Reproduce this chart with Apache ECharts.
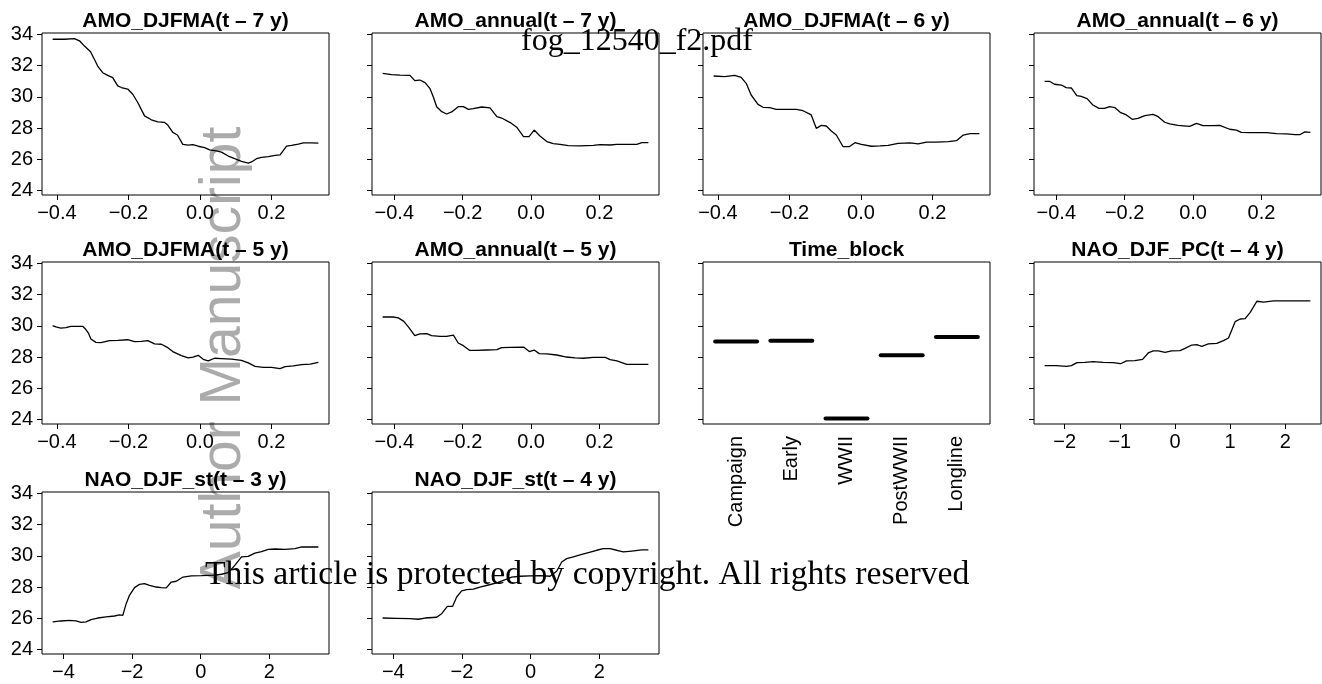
<!DOCTYPE html>
<html>
<head>
<meta charset="utf-8">
<script src="https://cdn.jsdelivr.net/npm/echarts@6/dist/echarts.min.js"></script>
<style>
html,body{margin:0;padding:0;background:#fff;}
#chart{width:1322px;height:684px;}
</style>
</head>
<body>
<div id="chart"></div>
<script>
// ---------------- DATA ----------------
const panelTitles = [
  'AMO_DJFMA(t \u2013 7 y)', 'AMO_annual(t \u2013 7 y)', 'AMO_DJFMA(t \u2013 6 y)', 'AMO_annual(t \u2013 6 y)',
  'AMO_DJFMA(t \u2013 5 y)', 'AMO_annual(t \u2013 5 y)', 'Time_block', 'NAO_DJF_PC(t \u2013 4 y)',
  'NAO_DJF_st(t \u2013 3 y)', 'NAO_DJF_st(t \u2013 4 y)'
];

const yTicks = [24, 26, 28, 30, 32, 34];
const yTickLabels = ['24', '26', '28', '30', '32', '34'];
const yRange = [23.7, 34.1];

const amoTicks = [-0.4, -0.2, 0.0, 0.2];
const amoTickLabels = ['\u22120.4', '\u22120.2', '0.0', '0.2'];
const naoPcTicks = [-2, -1, 0, 1, 2];
const naoPcTickLabels = ['\u22122', '\u22121', '0', '1', '2'];
const naoStTicks = [-4, -2, 0, 2];
const naoStTickLabels = ['\u22124', '\u22122', '0', '2'];

const amoDJFMA_t7 = [[-0.412,33.70],[-0.379,33.70],[-0.351,33.74],[-0.337,33.60],[-0.323,33.26],[-0.306,32.90],[-0.295,32.40],[-0.286,31.98],[-0.272,31.55],[-0.258,31.38],[-0.244,31.23],[-0.230,30.70],[-0.220,30.60],[-0.202,30.50],[-0.188,30.17],[-0.174,29.64],[-0.155,28.78],[-0.136,28.53],[-0.118,28.40],[-0.099,28.36],[-0.090,28.19],[-0.076,27.72],[-0.063,27.55],[-0.048,26.95],[-0.033,26.90],[-0.020,26.93],[-0.005,26.83],[0.013,26.74],[0.027,26.60],[0.046,26.53],[0.060,26.45],[0.079,26.20],[0.097,26.03],[0.116,25.86],[0.135,25.75],[0.144,25.82],[0.158,26.03],[0.172,26.11],[0.191,26.16],[0.210,26.24],[0.224,26.28],[0.242,26.84],[0.256,26.88],[0.275,26.97],[0.289,27.05],[0.312,27.05],[0.331,27.03]];

const amoAnnual_t7 = [[-0.434,31.51],[-0.408,31.43],[-0.383,31.40],[-0.354,31.38],[-0.340,31.04],[-0.325,31.08],[-0.310,30.91],[-0.296,30.55],[-0.286,30.01],[-0.276,29.37],[-0.261,29.05],[-0.247,28.90],[-0.232,29.03],[-0.213,29.37],[-0.198,29.37],[-0.183,29.20],[-0.169,29.24],[-0.144,29.35],[-0.120,29.29],[-0.100,28.73],[-0.086,28.64],[-0.061,28.35],[-0.042,28.05],[-0.022,27.45],[-0.006,27.45],[0.009,27.87],[0.026,27.49],[0.046,27.13],[0.065,27.00],[0.085,26.95],[0.109,26.87],[0.143,26.85],[0.182,26.89],[0.202,26.93],[0.231,26.91],[0.251,26.95],[0.280,26.95],[0.309,26.95],[0.324,27.06],[0.343,27.06]];

const amoDJFMA_t6 = [[-0.412,31.34],[-0.381,31.30],[-0.353,31.38],[-0.335,31.25],[-0.321,30.87],[-0.307,30.12],[-0.288,29.52],[-0.274,29.33],[-0.255,29.31],[-0.237,29.20],[-0.209,29.20],[-0.181,29.20],[-0.162,29.11],[-0.139,28.84],[-0.125,27.98],[-0.111,28.17],[-0.097,28.13],[-0.083,27.81],[-0.069,27.55],[-0.050,26.80],[-0.033,26.80],[-0.017,27.06],[0.001,26.95],[0.029,26.83],[0.053,26.85],[0.076,26.89],[0.104,27.02],[0.137,27.04],[0.160,26.98],[0.183,27.10],[0.211,27.10],[0.244,27.13],[0.267,27.19],[0.286,27.55],[0.305,27.64],[0.331,27.64]];

const amoAnnual_t6 = [[-0.434,31.00],[-0.420,31.00],[-0.405,30.81],[-0.385,30.76],[-0.371,30.59],[-0.356,30.57],[-0.340,30.08],[-0.327,30.03],[-0.310,29.89],[-0.293,29.48],[-0.275,29.26],[-0.259,29.26],[-0.244,29.37],[-0.229,29.31],[-0.213,29.01],[-0.195,28.84],[-0.178,28.56],[-0.161,28.62],[-0.141,28.79],[-0.117,28.88],[-0.102,28.73],[-0.083,28.37],[-0.068,28.26],[-0.044,28.17],[-0.010,28.11],[0.010,28.30],[0.029,28.15],[0.054,28.15],[0.078,28.17],[0.107,27.92],[0.127,27.87],[0.141,27.72],[0.166,27.70],[0.215,27.70],[0.244,27.64],[0.273,27.62],[0.298,27.57],[0.312,27.57],[0.327,27.75],[0.343,27.72]];

const amoDJFMA_t5 = [[-0.412,30.01],[-0.403,29.93],[-0.389,29.86],[-0.375,29.89],[-0.361,29.97],[-0.342,29.97],[-0.328,29.97],[-0.321,29.82],[-0.312,29.54],[-0.305,29.16],[-0.291,28.94],[-0.277,28.92],[-0.253,29.05],[-0.230,29.07],[-0.202,29.11],[-0.183,28.99],[-0.164,29.01],[-0.146,29.05],[-0.127,28.84],[-0.108,28.82],[-0.090,28.60],[-0.076,28.35],[-0.052,28.09],[-0.033,27.94],[-0.019,28.00],[-0.005,28.11],[0.009,27.85],[0.023,27.75],[0.041,27.92],[0.060,27.90],[0.088,27.87],[0.116,27.79],[0.135,27.62],[0.154,27.40],[0.177,27.34],[0.200,27.34],[0.224,27.25],[0.238,27.38],[0.261,27.43],[0.284,27.51],[0.308,27.55],[0.331,27.66]];

const amoAnnual_t5 = [[-0.434,30.57],[-0.403,30.57],[-0.388,30.51],[-0.372,30.29],[-0.356,29.86],[-0.340,29.37],[-0.325,29.48],[-0.305,29.50],[-0.291,29.37],[-0.266,29.33],[-0.247,29.33],[-0.227,29.41],[-0.213,28.90],[-0.198,28.73],[-0.180,28.43],[-0.159,28.43],[-0.130,28.45],[-0.100,28.47],[-0.086,28.60],[-0.061,28.62],[-0.022,28.64],[-0.005,28.35],[0.009,28.45],[0.024,28.22],[0.046,28.20],[0.075,28.13],[0.104,28.00],[0.129,27.94],[0.153,27.92],[0.182,27.98],[0.217,27.98],[0.231,27.83],[0.251,27.75],[0.280,27.53],[0.309,27.53],[0.343,27.53]];

const timeBlockCats = ['Campaign', 'Early', 'WWII', 'PostWWII', 'Longline'];
const timeBlockVals = [29.00, 29.05, 24.05, 28.12, 29.29];

const naoPC_t4 = [[-2.364,27.45],[-2.152,27.45],[-1.970,27.40],[-1.879,27.45],[-1.776,27.64],[-1.636,27.66],[-1.485,27.70],[-1.303,27.66],[-1.121,27.64],[-0.988,27.57],[-0.879,27.75],[-0.727,27.77],[-0.588,27.85],[-0.485,28.26],[-0.394,28.39],[-0.303,28.39],[-0.182,28.30],[-0.061,28.39],[0.091,28.41],[0.182,28.56],[0.303,28.77],[0.394,28.79],[0.485,28.69],[0.606,28.84],[0.758,28.88],[0.879,29.05],[0.970,29.22],[1.091,30.27],[1.182,30.44],[1.273,30.46],[1.364,30.87],[1.485,31.58],[1.606,31.53],[1.788,31.60],[2.091,31.60],[2.455,31.60]];

const naoSt_t3 = [[-4.313,25.76],[-4.070,25.82],[-3.827,25.86],[-3.632,25.82],[-3.486,25.73],[-3.340,25.76],[-3.194,25.91],[-3.000,26.01],[-2.756,26.08],[-2.512,26.14],[-2.366,26.21],[-2.269,26.18],[-2.171,26.93],[-2.074,27.47],[-1.928,27.96],[-1.782,28.17],[-1.636,28.22],[-1.490,28.11],[-1.295,28.00],[-1.149,27.96],[-1.003,27.94],[-0.857,28.32],[-0.711,28.37],[-0.516,28.64],[-0.273,28.71],[0.019,28.73],[0.214,28.75],[0.409,28.77],[0.604,28.82],[0.798,28.92],[0.993,29.39],[1.188,29.93],[1.383,29.97],[1.577,30.18],[1.772,30.27],[1.967,30.42],[2.162,30.44],[2.454,30.42],[2.746,30.46],[2.941,30.57],[3.184,30.57],[3.427,30.57]];

const naoSt_t4 = [[-4.311,26.01],[-3.903,25.99],[-3.515,25.97],[-3.272,25.93],[-3.078,26.01],[-2.738,26.06],[-2.592,26.29],[-2.427,26.76],[-2.272,26.76],[-2.155,27.36],[-2.010,27.75],[-1.864,27.83],[-1.670,27.87],[-1.476,28.00],[-1.233,28.13],[-0.990,28.26],[-0.796,28.43],[-0.553,28.64],[-0.311,28.69],[-0.019,28.71],[0.272,28.73],[0.563,28.69],[0.757,29.01],[0.903,29.61],[1.049,29.82],[1.243,29.93],[1.437,30.06],[1.680,30.21],[1.922,30.36],[2.117,30.46],[2.311,30.46],[2.505,30.36],[2.699,30.25],[2.942,30.31],[3.233,30.38],[3.427,30.38]];

// ---------------- LAYOUT ----------------
const colLeft = [42, 372, 703, 1034];
const rowTop = [33, 262, 492];
const boxW = 287, boxH = 162;
const FONT = '"Liberation Sans", Arial, sans-serif';

const panelData = [amoDJFMA_t7, amoAnnual_t7, amoDJFMA_t6, amoAnnual_t6, amoDJFMA_t5, amoAnnual_t5, null, naoPC_t4, naoSt_t3, naoSt_t4];
const panelTicks = [
  [amoTicks, amoTickLabels], [amoTicks, amoTickLabels], [amoTicks, amoTickLabels], [amoTicks, amoTickLabels],
  [amoTicks, amoTickLabels], [amoTicks, amoTickLabels], null, [naoPcTicks, naoPcTickLabels],
  [naoStTicks, naoStTickLabels], [naoStTicks, naoStTickLabels]
];

function labelFor(ticks, labels) {
  return function (v) {
    const i = ticks.findIndex(t => Math.abs(t - v) < 1e-9);
    return i >= 0 ? labels[i] : '';
  };
}

const grids = [], xAxes = [], yAxes = [], series = [], graphics = [];

for (let p = 0; p < 10; p++) {
  const col = p % 4, row = Math.floor(p / 4);
  const left = colLeft[col], top = rowTop[row];
  grids.push({ left: left, top: top, width: boxW, height: boxH, show: true, borderColor: '#000', borderWidth: 1, backgroundColor: 'transparent', containLabel: false });

  graphics.push({
    type: 'text', x: left + boxW / 2, y: top - 1, z: 5,
    style: { text: panelTitles[p], align: 'center', verticalAlign: 'bottom', font: 'bold 21px ' + FONT, fill: '#000' }
  });

  yAxes.push({
    type: 'value', gridIndex: p, min: yRange[0], max: yRange[1], position: 'left',
    axisLine: { show: false, onZero: false }, splitLine: { show: false },
    axisTick: { show: true, inside: false, length: 5, customValues: yTicks, lineStyle: { color: '#000', width: 1 } },
    axisLabel: { show: col === 0, customValues: yTicks, formatter: labelFor(yTicks, yTickLabels), fontSize: 20, color: '#000', fontFamily: FONT, margin: 9 }
  });

  if (p === 6) {
    xAxes.push({
      type: 'value', gridIndex: p, min: 0.4, max: 5.6, position: 'bottom',
      axisLine: { show: false, onZero: false }, splitLine: { show: false },
      axisTick: { show: false },
      axisLabel: {
        customValues: [1, 2, 3, 4, 5], rotate: 90, margin: 12,
        formatter: function (v) { return timeBlockCats[Math.round(v) - 1]; },
        fontSize: 20, color: '#000', fontFamily: FONT
      }
    });
    timeBlockVals.forEach(function (v, i) {
      series.push({
        type: 'line', xAxisIndex: p, yAxisIndex: p, showSymbol: false, silent: true,
        lineStyle: { color: '#000', width: 4, cap: 'round' },
        data: [[i + 1 - 0.38, v], [i + 1 + 0.38, v]]
      });
    });
  } else {
    const d = panelData[p];
    const xs = d.map(q => q[0]);
    const lo = Math.min.apply(null, xs), hi = Math.max.apply(null, xs);
    const pad = (hi - lo) * 0.04;
    const tk = panelTicks[p];
    xAxes.push({
      type: 'value', gridIndex: p, min: lo - pad, max: hi + pad, position: 'bottom',
      axisLine: { show: false, onZero: false }, splitLine: { show: false },
      axisTick: { show: true, inside: false, length: 5, customValues: tk[0], lineStyle: { color: '#000', width: 1 } },
      axisLabel: { customValues: tk[0], formatter: labelFor(tk[0], tk[1]), fontSize: 20, color: '#000', fontFamily: FONT, margin: 8 }
    });
    series.push({
      type: 'line', xAxisIndex: p, yAxisIndex: p, showSymbol: false, silent: true,
      lineStyle: { color: '#000', width: 1.3 },
      data: d
    });
  }
}

// overlay texts
graphics.push({
  type: 'text', x: 224, y: 358, rotation: Math.PI / 2, z: -1,
  style: { text: 'Author Manuscript', align: 'center', verticalAlign: 'middle', font: '57px ' + FONT, fill: '#ababab' }
});
graphics.push({
  type: 'text', x: 521, y: 26, z: 50,
  style: { text: 'fog_12540_f2.pdf', align: 'left', verticalAlign: 'top', font: '32px "Liberation Serif", serif', fill: '#000' }
});
graphics.push({
  type: 'text', x: 205, y: 558, z: 50,
  style: { text: 'This article is protected by copyright. All rights reserved', align: 'left', verticalAlign: 'top', font: '33.7px "Liberation Serif", serif', fill: '#000' }
});

const chart = echarts.init(document.getElementById('chart'), null, { renderer: 'canvas' });
chart.setOption({
  animation: false,
  backgroundColor: '#fff',
  textStyle: { fontFamily: FONT },
  grid: grids,
  xAxis: xAxes,
  yAxis: yAxes,
  series: series,
  graphic: graphics
});
</script>
</body>
</html>
